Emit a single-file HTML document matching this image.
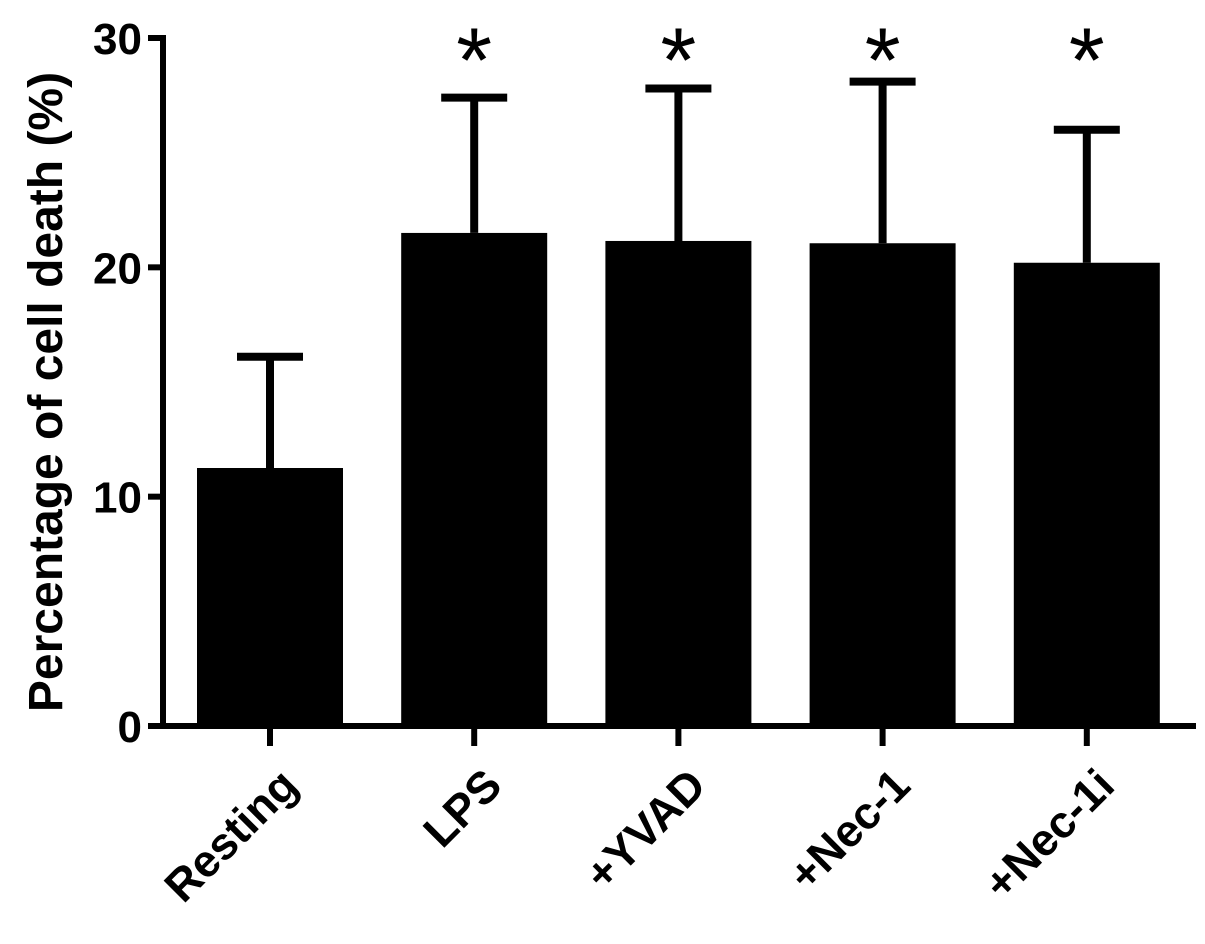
<!DOCTYPE html>
<html><head><meta charset="utf-8"><style>
body{margin:0;background:#fff}
svg text{font-family:"Liberation Sans",Arial,sans-serif;font-weight:bold;fill:#000}
</style></head><body>
<svg id="chart" width="1205" height="939" viewBox="0 0 1205 939" xmlns="http://www.w3.org/2000/svg"></svg>
<script>
const categories=["Resting","LPS","+YVAD","+Nec-1","+Nec-1i"];
const means=[11.25,21.5,21.15,21.05,20.2];
const errorTops=[16.1,27.4,27.8,28.1,26.0];
const significant=[false,true,true,true,true];
const yTicks=[0,10,20,30];
const NS="http://www.w3.org/2000/svg";
const svg=document.getElementById('chart');
const y0=726,y30=38;
function yScale(v){return y0-(y0-y30)*v/30;}
function xScale(i){return 270+i*204.2;}
function mk(tag,attrs,parent){const e=document.createElementNS(NS,tag);for(const k in attrs)e.setAttribute(k,attrs[k]);(parent||svg).appendChild(e);return e;}
categories.forEach((c,i)=>{
  const cx=xScale(i);
  const eb=mk('g',{});
  
  
  mk('line',{x1:cx,x2:cx,y1:yScale(errorTops[i]),y2:yScale(means[i]),stroke:'#000','stroke-width':8},eb);
  mk('line',{x1:cx-33,x2:cx+33,y1:yScale(errorTops[i]),y2:yScale(errorTops[i]),stroke:'#000','stroke-width':8},eb);
  const r=mk('rect',{x:cx-73,y:yScale(means[i]),width:146,height:y0-yScale(means[i]),fill:'#000'});
  
  
  const t=mk('line',{x1:cx,x2:cx,y1:y0,y2:y0+20,stroke:'#000','stroke-width':6});
  
  
  const lb=mk('text',{x:0,y:0,'font-size':45,'text-anchor':'end',transform:`translate(${cx+30},${y0+62}) rotate(-45)`});
  lb.textContent=c;
  
  
  if(significant[i]){
    const s=mk('text',{x:cx,y:92,'font-size':92,'text-anchor':'middle'});
    s.style.fontWeight='normal';
    s.textContent='*';
    
    
  }
});
const ya=mk('line',{x1:163,x2:163,y1:y30-3,y2:y0+3,stroke:'#000','stroke-width':6});


const xa=mk('line',{x1:160,x2:1196,y1:y0,y2:y0,stroke:'#000','stroke-width':6});


yTicks.forEach(v=>{
  const t=mk('line',{x1:148,x2:163,y1:yScale(v),y2:yScale(v),stroke:'#000','stroke-width':6});
  
  
  const l=mk('text',{x:142,y:yScale(v)+16,'font-size':44,'text-anchor':'end'});
  l.textContent=v;
  
  
});
const yt=mk('text',{x:0,y:0,'font-size':48,'text-anchor':'middle',transform:'translate(62,392) rotate(-90)'});
yt.textContent='Percentage of cell death (%)';


</script>
</body></html>
